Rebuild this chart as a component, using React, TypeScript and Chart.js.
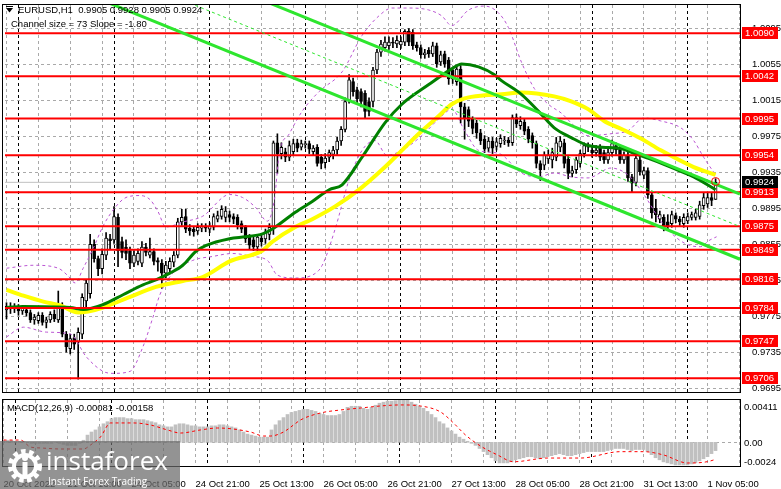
import React, { useEffect, useRef } from 'react';
import { Chart, registerables } from 'chart.js';
Chart.register(...registerables);

// ---------- data ----------
const opens = [
  0.9782,0.9786,0.9783,0.9785,0.9781,0.9782,0.9779,0.9771,0.9770,0.9776,
  0.9768,0.9771,0.9777,0.9771,0.9787,0.9755,0.9739,0.9751,0.9746,0.9755,
  0.9792,0.9800,0.9855,0.9839,0.9828,0.9843,0.9861,0.9860,0.9885,0.9858,
  0.9852,0.9848,0.9834,0.9836,0.9834,0.9852,0.9843,0.9847,0.9837,0.9834,
  0.9823,0.9828,0.9835,0.9843,0.9880,0.9886,0.9873,0.9872,0.9870,0.9873,
  0.9874,0.9872,0.9874,0.9883,0.9886,0.9885,0.9888,0.9886,0.9885,0.9878,
  0.9874,0.9863,0.9860,0.9852,0.9862,0.9861,0.9866,0.9874,0.9968,0.9956,
  0.9958,0.9952,0.9958,0.9968,0.9963,0.9966,0.9967,0.9958,0.9963,0.9952,
  0.9946,0.9952,0.9955,0.9960,0.9970,0.9983,1.0015,1.0036,1.0027,1.0025,
  1.0023,1.0014,1.0014,1.0049,1.0069,1.0074,1.0076,1.0080,1.0078,1.0077,
  1.0080,1.0092,1.0091,1.0077,1.0074,1.0066,1.0071,1.0067,1.0076,1.0058,
  1.0067,1.0060,1.0049,1.0036,1.0050,1.0008,1.0005,0.9994,0.9990,0.9979,
  0.9972,0.9962,0.9970,0.9964,0.9967,0.9970,0.9971,0.9968,0.9996,0.9987,
  0.9991,0.9983,0.9976,0.9967,0.9945,0.9943,0.9950,0.9949,0.9952,0.9963,
  0.9968,0.9950,0.9934,0.9938,0.9945,0.9956,0.9965,0.9960,0.9957,0.9962,
  0.9957,0.9949,0.9957,0.9965,0.9962,0.9949,0.9954,0.9930,0.9924,0.9949,
  0.9932,0.9937,0.9910,0.9895,0.9883,0.9885,0.9880,0.9878,0.9887,0.9883,
  0.9878,0.9881,0.9885,0.9885,0.9886,0.9898,0.9900,0.9907,0.9905,
];
const highs = [
  0.9790,0.9790,0.9789,0.9788,0.9787,0.9786,0.9782,0.9777,0.9779,0.9779,
  0.9774,0.9780,0.9782,0.9803,0.9790,0.9758,0.9755,0.9755,0.9762,0.9800,
  0.9815,0.9866,0.9860,0.9842,0.9850,0.9868,0.9866,0.9897,0.9889,0.9863,
  0.9860,0.9852,0.9848,0.9850,0.9858,0.9856,0.9862,0.9850,0.9840,0.9838,
  0.9836,0.9840,0.9847,0.9884,0.9894,0.9894,0.9877,0.9875,0.9878,0.9878,
  0.9878,0.9879,0.9889,0.9892,0.9898,0.9897,0.9892,0.9889,0.9888,0.9881,
  0.9876,0.9866,0.9863,0.9866,0.9867,0.9872,0.9878,0.9970,0.9978,0.9968,
  0.9962,0.9970,0.9972,0.9972,0.9971,0.9970,0.9970,0.9965,0.9966,0.9955,
  0.9956,0.9960,0.9964,0.9974,0.9986,1.0018,1.0044,1.0040,1.0030,1.0028,
  1.0026,1.0018,1.0052,1.0072,1.0082,1.0086,1.0086,1.0085,1.0087,1.0086,
  1.0094,1.0095,1.0094,1.0080,1.0077,1.0072,1.0074,1.0080,1.0079,1.0070,
  1.0070,1.0063,1.0052,1.0054,1.0054,1.0012,1.0008,0.9997,0.9993,0.9983,
  0.9976,0.9974,0.9974,0.9973,0.9977,0.9975,0.9974,0.9999,1.0000,0.9997,
  0.9994,0.9986,0.9979,0.9970,0.9948,0.9958,0.9960,0.9962,0.9974,0.9975,
  0.9972,0.9953,0.9942,0.9952,0.9960,0.9968,0.9968,0.9963,0.9965,0.9966,
  0.9960,0.9961,0.9971,0.9968,0.9965,0.9958,0.9958,0.9933,0.9955,0.9953,
  0.9941,0.9940,0.9912,0.9905,0.9892,0.9888,0.9888,0.9892,0.9890,0.9886,
  0.9889,0.9890,0.9891,0.9894,0.9903,0.9912,0.9913,0.9912,0.9928,
];
const lows = [
  0.9772,0.9778,0.9779,0.9776,0.9777,0.9775,0.9768,0.9766,0.9767,0.9765,
  0.9762,0.9768,0.9769,0.9768,0.9752,0.9735,0.9733,0.9738,0.9705,0.9750,
  0.9785,0.9795,0.9835,0.9820,0.9822,0.9838,0.9850,0.9856,0.9830,0.9840,
  0.9838,0.9828,0.9830,0.9832,0.9830,0.9842,0.9840,0.9832,0.9825,0.9806,
  0.9818,0.9824,0.9830,0.9840,0.9876,0.9868,0.9865,0.9864,0.9866,0.9869,
  0.9869,0.9868,0.9871,0.9880,0.9883,0.9880,0.9880,0.9878,0.9872,0.9868,
  0.9857,0.9850,0.9848,0.9848,0.9853,0.9856,0.9860,0.9866,0.9934,0.9950,
  0.9947,0.9948,0.9954,0.9958,0.9960,0.9962,0.9956,0.9954,0.9942,0.9939,
  0.9940,0.9947,0.9950,0.9955,0.9965,0.9980,1.0012,1.0020,1.0012,1.0008,
  0.9996,0.9998,1.0008,1.0045,1.0064,1.0070,1.0072,1.0074,1.0074,1.0073,
  1.0076,1.0076,1.0072,1.0070,1.0062,1.0062,1.0063,1.0064,1.0052,1.0054,
  1.0052,1.0033,1.0034,1.0032,0.9990,0.9972,0.9986,0.9978,0.9973,0.9966,
  0.9957,0.9958,0.9956,0.9960,0.9963,0.9966,0.9964,0.9965,0.9985,0.9983,
  0.9977,0.9968,0.9962,0.9940,0.9926,0.9938,0.9945,0.9940,0.9948,0.9958,
  0.9940,0.9928,0.9930,0.9934,0.9941,0.9952,0.9958,0.9952,0.9953,0.9948,
  0.9945,0.9945,0.9953,0.9955,0.9945,0.9945,0.9925,0.9913,0.9920,0.9932,
  0.9928,0.9906,0.9884,0.9880,0.9879,0.9870,0.9872,0.9874,0.9879,0.9876,
  0.9874,0.9878,0.9882,0.9882,0.9883,0.9894,0.9896,0.9898,0.9905,
];
const closes = [
  0.9786,0.9783,0.9785,0.9781,0.9784,0.9779,0.9771,0.9774,0.9776,0.9768,
  0.9771,0.9777,0.9772,0.9788,0.9755,0.9741,0.9750,0.9744,0.9757,0.9796,
  0.9812,0.9855,0.9839,0.9828,0.9844,0.9862,0.9859,0.9886,0.9848,0.9846,
  0.9845,0.9834,0.9843,0.9845,0.9852,0.9846,0.9847,0.9836,0.9835,0.9823,
  0.9832,0.9836,0.9843,0.9880,0.9885,0.9872,0.9870,0.9869,0.9874,0.9874,
  0.9873,0.9875,0.9886,0.9887,0.9894,0.9892,0.9885,0.9883,0.9877,0.9872,
  0.9861,0.9854,0.9852,0.9863,0.9858,0.9869,0.9874,0.9968,0.9956,0.9963,
  0.9952,0.9965,0.9967,0.9962,0.9967,0.9967,0.9961,0.9962,0.9945,0.9945,
  0.9951,0.9957,0.9960,0.9970,0.9983,1.0014,1.0038,1.0025,1.0017,1.0014,
  1.0003,1.0003,1.0049,1.0069,1.0078,1.0080,1.0080,1.0079,1.0082,1.0081,
  1.0092,1.0080,1.0076,1.0074,1.0066,1.0068,1.0067,1.0076,1.0056,1.0066,
  1.0056,1.0039,1.0039,1.0050,1.0008,0.9995,0.9992,0.9984,0.9979,0.9970,
  0.9961,0.9970,0.9962,0.9969,0.9973,0.9971,0.9968,0.9996,0.9989,0.9992,
  0.9981,0.9972,0.9968,0.9945,0.9938,0.9954,0.9954,0.9957,0.9968,0.9970,
  0.9945,0.9934,0.9937,0.9949,0.9956,0.9965,0.9963,0.9957,0.9960,0.9952,
  0.9949,0.9957,0.9967,0.9960,0.9949,0.9954,0.9929,0.9923,0.9951,0.9936,
  0.9937,0.9910,0.9890,0.9888,0.9888,0.9874,0.9875,0.9888,0.9883,0.9880,
  0.9885,0.9886,0.9888,0.9890,0.9899,0.9907,0.9907,0.9904,0.9924,
];

// moving averages [barIndex, price]
const greenMA = [
  [0,0.97847],[4.25,0.97858],[16,0.97847],[19.25,0.97825],[24.25,0.97880],[29.25,0.97989],
  [34.25,0.98098],[37.5,0.98153],[41,0.98229],[44.25,0.98317],[47.5,0.98470],[50,0.98535],
  [56,0.98612],[60,0.98634],[64.25,0.98666],[66.75,0.98721],[72.5,0.98907],[76.75,0.99027],
  [81,0.99158],[84.25,0.99213],[89.25,0.99519],[95,0.99902],[99.25,1.00109],[106,1.00328],
  [111.75,1.00503],[114.25,1.00557],[118.5,1.00525],[122.5,1.00437],[124.25,1.00372],
  [129.25,1.00219],[133.5,1.00033],[137.5,0.99847],[141.75,0.99738],[146,0.99650],
  [151,0.99628],[154.25,0.99617],[157.5,0.99563],[162.5,0.99486],[168.5,0.99377],
  [172.5,0.99300],[178,0.99158],
];
const yellowMA = [
  [0,0.98043],[4.25,0.97978],[9.25,0.97912],[13.5,0.97869],[18,0.97792],[20.5,0.97803],
  [24.25,0.97847],[30.5,0.97956],[37.5,0.98076],[44.25,0.98142],[49.25,0.98186],[56,0.98360],
  [64.25,0.98481],[66.75,0.98579],[72.5,0.98743],[76.75,0.98830],[82.5,0.98972],[88.5,0.99158],
  [95,0.99410],[99.25,0.99596],[103.5,0.99781],[108.5,0.99978],[111.75,1.00109],[115,1.00175],
  [120,1.00208],[124.25,1.00219],[129.25,1.00240],[137.5,1.00197],[141.75,1.00142],[146,1.00055],
  [150,0.99923],[154.25,0.99836],[159.25,0.99727],[164.25,0.99596],[172.5,0.99410],[178,0.99322],
];
const upperBand = [
  [0,0.98284],[6.75,0.98317],[13,0.98284],[15.5,0.98197],[17.25,0.98120],[19.25,0.98284],
  [21.75,0.98503],[24.25,0.98754],[27.5,0.98973],[30,0.99071],[33.5,0.99093],[36,0.99049],
  [38,0.98918],[40,0.98743],[44.25,0.98798],[49.25,0.98863],[56,0.99104],[59.25,0.99071],
  [62.5,0.98962],[65.5,0.98808],[67.25,0.99049],[68.5,0.99563],[71,0.99781],[74.25,1.00033],
  [78.5,1.00251],[84.25,1.00470],[89.25,1.00874],[93.5,1.01093],[96.75,1.01180],[101,1.01180],
  [106,1.01158],[109.25,1.01093],[111.75,1.00984],[116,1.01158],[120,1.01202],[123.5,1.01126],
  [126,1.00962],[129.25,1.00579],[132.5,1.00284],[136,1.00109],[139.25,1.00011],[142.5,0.99869],
  [146,0.99759],[151.75,0.99781],[156,0.99814],[160,0.99956],[164.25,0.99923],[169.25,0.99847],
  [172.5,0.99705],[175,0.99519],[177.5,0.99355],[178.25,0.99311],
];
const lowerBand = [
  [0,0.97519],[4.25,0.97628],[10,0.97573],[16,0.97552],[20,0.97300],[24.25,0.97136],
  [26.75,0.97114],[31,0.97136],[34.25,0.97410],[36.75,0.97737],[38.5,0.97989],[41.75,0.98229],
  [46.75,0.98371],[51.75,0.98415],[56.75,0.98448],[61.75,0.98415],[65.5,0.98371],[68,0.98207],
  [72.5,0.98175],[76.75,0.98207],[79.25,0.98317],[82.5,0.98721],[86,0.99268],[89.25,0.99596],
  [92.5,0.99705],[95.5,0.99541],[99.25,0.99596],[104.25,0.99759],[109.25,0.99978],[111.75,1.00055],
  [115,0.99814],[118.5,0.99596],[123.5,0.99563],[129.25,0.99344],[133.5,0.99300],[137.5,0.99344],
  [141.75,0.99300],[146,0.99289],[151.75,0.99399],[156,0.99322],[160,0.99104],[164.25,0.98808],
  [168.5,0.98612],[171.75,0.98535],[174.25,0.98524],[176.25,0.98590],[178.25,0.98634],
];

// regression channel lines [barIndex, price]
const channelUpper = [[66, 1.01236], [184.125, 0.99110]];
const channelMiddle = [[46, 1.01235], [184.125, 0.98747]];
const channelLower = [[25.5, 1.01240], [184.125, 0.98384]];

const levels = [1.0090, 1.0042, 0.9995, 0.9954, 0.9913, 0.9875, 0.9849, 0.9816, 0.9784, 0.9747, 0.9706];
const bidPrice = 0.9924;
const alertMarks = [[178, 0.99249]];
const priceTicks = [0.9695, 0.9735, 0.9775, 0.9815, 0.9855, 0.9895, 0.9935, 0.9975, 1.0015, 1.0055, 1.0095];

const gridBars = [0,8,16,24,32,40,48,56,64,72,80,88,96,104,112,120,128,136,144,152,160,168,176,184];
const timeLabels = ['20 Oct 2022','21 Oct 13:00','24 Oct 05:00','24 Oct 21:00','25 Oct 13:00','26 Oct 05:00',
  '26 Oct 21:00','27 Oct 13:00','28 Oct 05:00','28 Oct 21:00','31 Oct 13:00','1 Nov 05:00'];
const daySeparators = [3, 27, 51, 75, 99, 123, 147, 171];

const macdHist = [
  0.0002,0.0002,0.0002,0.0001,0.0001,0.0001,0.0000,-0.0001,-0.0001,-0.0001,
  -0.0001,-0.0001,-0.0001,0.0000,-0.0001,-0.0002,-0.0003,-0.0003,-0.0003,-0.0001,
  0.0002,0.0007,0.0010,0.0012,0.0015,0.0018,0.0020,0.0023,0.0024,0.0024,
  0.0024,0.0023,0.0023,0.0022,0.0022,0.0022,0.0021,0.0020,0.0019,0.0017,
  0.0016,0.0015,0.0015,0.0017,0.0018,0.0018,0.0017,0.0016,0.0016,0.0015,
  0.0015,0.0015,0.0016,0.0016,0.0017,0.0017,0.0016,0.0015,0.0014,0.0012,
  0.0010,0.0008,0.0007,0.0006,0.0005,0.0005,0.0005,0.0012,0.0017,0.0021,
  0.0024,0.0027,0.0029,0.0030,0.0031,0.0032,0.0032,0.0031,0.0030,0.0028,
  0.0027,0.0026,0.0026,0.0026,0.0027,0.0030,0.0034,0.0035,0.0035,0.0035,
  0.0033,0.0032,0.0034,0.0036,0.0038,0.0039,0.0040,0.0040,0.00405,0.0041,
  0.0041,0.0041,0.0039,0.0037,0.0035,0.0033,0.0030,0.0027,0.0024,0.0020,
  0.0018,0.0014,0.0011,0.0008,0.0005,0.0003,0.0001,-0.0001,-0.0003,-0.0006,
  -0.0009,-0.0012,-0.0015,-0.0018,-0.0020,-0.0020,-0.0020,-0.0019,-0.0017,-0.0016,
  -0.0015,-0.0014,-0.0014,-0.0015,-0.0016,-0.0015,-0.0014,-0.0013,-0.0012,-0.0011,
  -0.0012,-0.0013,-0.0013,-0.0012,-0.0011,-0.0010,-0.0009,-0.0009,-0.0009,-0.0009,
  -0.0009,-0.0008,-0.0007,-0.0006,-0.0006,-0.0006,-0.0007,-0.0008,-0.0007,-0.0007,
  -0.0007,-0.0009,-0.0012,-0.0015,-0.0017,-0.0019,-0.0020,-0.0021,-0.0022,-0.0022,
  -0.0022,-0.0022,-0.0021,-0.0020,-0.0018,-0.0016,-0.0014,-0.0011,-0.00081,
];
const macdSignal = [
  [0,0.00022],[4.25,0.00022],[6.75,-0.00046],[9.25,-0.00055],[14.25,-0.00065],[20,-0.00065],
  [21.75,-0.00026],[24.25,0.00052],[26.75,0.00188],[32.5,0.00188],[36.75,0.00168],[41,0.00120],
  [44.25,0.00090],[49.25,0.00120],[53.5,0.00139],[61.75,0.00100],[65,0.00061],[66.75,0.00061],
  [70,0.00100],[72.5,0.00168],[74.25,0.00217],[79.25,0.00285],[84.25,0.00314],[89.25,0.00333],
  [94.25,0.00353],[99.25,0.00363],[104.25,0.00353],[109.25,0.00295],[112.25,0.00197],[115.5,0.00071],
  [119.25,-0.00036],[123.5,-0.00123],[127.5,-0.00189],[136,-0.00153],[144.25,-0.00153],
  [154.25,-0.00091],[160,-0.00091],[165,-0.00123],[171,-0.00201],[177.5,-0.00172],[178,-0.00158],
];
const macdAxisLabels = ['0.00411', '0.00', '-0.0024'];
const macdTitle = 'MACD(12,26,9) -0.00081 -0.00158';
const symbolTitle = 'EURUSD,H1';
const channelTitle = 'Channel size = 73 Slope = -1.80';

// ---------- geometry ----------
const X_MIN = -0.375;
const X_MAX = 184.125;
const Y_MIN = 0.968953;
const Y_MAX = 1.012136;
const MACD_MIN = -0.0024;
const MACD_MAX = 0.00411;
const FONT = '"Liberation Sans", Arial, sans-serif';
const GRID = '#a9a9a9';

const pts = (arr: number[][]) => arr.map(([x, y]) => ({ x, y }));
const hline = (v: number) => [{ x: X_MIN, y: v }, { x: X_MAX, y: v }];

function drawGrid(chart: any, yValues: number[]) {
  const { ctx, chartArea: a, scales } = chart;
  ctx.save();
  ctx.strokeStyle = GRID;
  ctx.lineWidth = 1;
  ctx.setLineDash([3, 3]);
  gridBars.forEach((b) => {
    const px = Math.floor(scales.x.getPixelForValue(b)) + 0.5;
    if (px < a.left || px > a.right) return;
    ctx.beginPath(); ctx.moveTo(px, a.top); ctx.lineTo(px, a.bottom); ctx.stroke();
  });
  yValues.forEach((v) => {
    const py = Math.floor(scales.y.getPixelForValue(v)) + 0.5;
    if (py < a.top || py > a.bottom) return;
    ctx.beginPath(); ctx.moveTo(a.left, py); ctx.lineTo(a.right, py); ctx.stroke();
  });
  ctx.strokeStyle = '#000';
  daySeparators.forEach((b) => {
    const px = Math.floor(scales.x.getPixelForValue(b)) + 0.5;
    ctx.beginPath(); ctx.moveTo(px, a.top); ctx.lineTo(px, a.bottom); ctx.stroke();
  });
  ctx.restore();
}

function drawFrame(chart: any) {
  const { ctx, chartArea: a } = chart;
  ctx.save();
  ctx.strokeStyle = '#000';
  ctx.lineWidth = 1;
  ctx.setLineDash([]);
  ctx.strokeRect(2.5, a.top - 0.5, 738, a.bottom - a.top);
  ctx.restore();
}

const mainPlugin = {
  id: 'mainDecor',
  beforeDatasetsDraw(chart: any) { drawGrid(chart, priceTicks); },
  afterDraw(chart: any) {
    const { ctx, scales } = chart;
    drawFrame(chart);
    ctx.save();
    ctx.font = `9.5px ${FONT}`;
    ctx.textBaseline = 'middle';
    ctx.textAlign = 'left';
    levels.forEach((lv) => {
      const py = Math.round(scales.y.getPixelForValue(lv));
      ctx.fillStyle = '#ff0000';
      ctx.fillRect(742, py - 6, 36, 12);
      ctx.fillStyle = '#ffffff';
      ctx.fillText(lv.toFixed(4), 745, py + 0.5);
    });
    const by = Math.round(scales.y.getPixelForValue(bidPrice));
    ctx.fillStyle = '#000';
    ctx.fillRect(742, by - 6, 36, 12);
    ctx.fillStyle = '#fff';
    ctx.fillText(bidPrice.toFixed(4), 745, by + 0.5);

    // titles
    const n = closes.length - 1;
    ctx.fillStyle = '#000';
    ctx.beginPath();
    ctx.moveTo(6, 8); ctx.lineTo(13, 8); ctx.lineTo(9.5, 12.5); ctx.closePath(); ctx.fill();
    ctx.fillRect(6, 6, 7, 1);
    const t = `${symbolTitle}  ${opens[n].toFixed(4)} ${highs[n].toFixed(4)} ${lows[n].toFixed(4)} ${closes[n].toFixed(4)}`;
    ctx.fillText(t, 18, 10);
    ctx.fillText(channelTitle, 11, 24);
    ctx.restore();
  },
};

function drawGear(ctx: CanvasRenderingContext2D, cx: number, cy: number) {
  ctx.save();
  ctx.strokeStyle = '#ffffff';
  ctx.fillStyle = '#ffffff';
  ctx.lineWidth = 5;
  ctx.setLineDash([4.5, 3.5]);
  ctx.beginPath(); ctx.arc(cx, cy, 14.5, 0, Math.PI * 2); ctx.stroke();
  ctx.setLineDash([]);
  ctx.lineWidth = 4;
  ctx.beginPath(); ctx.arc(cx, cy, 11, 0, Math.PI * 2); ctx.stroke();
  ctx.fillRect(cx - 2.5, cy - 4, 5, 14);
  ctx.beginPath(); ctx.arc(cx, cy - 8, 3, 0, Math.PI * 2); ctx.fill();
  ctx.restore();
}

const macdPlugin = {
  id: 'macdDecor',
  beforeDatasetsDraw(chart: any) { drawGrid(chart, [0]); },
  afterDraw(chart: any) {
    const { ctx, chartArea: a, scales } = chart;
    drawFrame(chart);
    ctx.save();
    ctx.font = `9.5px ${FONT}`;
    ctx.textBaseline = 'middle';
    ctx.textAlign = 'left';
    ctx.fillStyle = '#000';
    ctx.fillText(macdAxisLabels[0], 744, a.top + 7);
    ctx.fillText(macdAxisLabels[1], 744, scales.y.getPixelForValue(0) + 1);
    ctx.fillText(macdAxisLabels[2], 744, a.bottom - 5);
    ctx.fillText(macdTitle, 7, 10);

    // watermark
    ctx.fillStyle = 'rgba(105,105,105,0.72)';
    ctx.fillRect(0, 43, 180, 48);
    drawGear(ctx, 25, 68);
    ctx.fillStyle = '#ffffff';
    ctx.textBaseline = 'alphabetic';
    ctx.font = '26px "Open Sans", "Liberation Sans", sans-serif';
    ctx.fillText('instaforex', 46, 72);
    ctx.font = '10px "Open Sans", "Liberation Sans", sans-serif';
    ctx.fillText('Instant Forex Trading', 48, 87);
    ctx.restore();
  },
};

function mainConfig(): any {
  const idx = closes.map((_, i) => i);
  const wickData = idx.map((i) => ({ x: i, y: [lows[i], highs[i]] }));
  const bodyData = idx.map((i) => ({ x: i, y: [opens[i], closes[i]] }));
  const lineBase = { type: 'line', pointRadius: 0, fill: false };
  return {
    type: 'bar',
    data: {
      datasets: [
        { ...lineBase, data: pts(alertMarks), showLine: false, pointRadius: 4, pointBorderColor: '#ff0000',
          pointBackgroundColor: 'rgba(0,0,0,0)', pointBorderWidth: 1, order: 0 },
        { ...lineBase, data: pts(channelUpper), borderColor: '#2ee62e', borderWidth: 3, order: 1 },
        { ...lineBase, data: pts(channelMiddle), borderColor: '#2ee62e', borderWidth: 1, borderDash: [3, 3], order: 1 },
        { ...lineBase, data: pts(channelLower), borderColor: '#2ee62e', borderWidth: 3, order: 1 },
        ...levels.map((lv) => ({ ...lineBase, data: hline(lv), borderColor: '#ff0000', borderWidth: 2, order: 2 })),
        { ...lineBase, data: pts(greenMA), borderColor: '#008000', borderWidth: 3, cubicInterpolationMode: 'monotone', order: 3 },
        { ...lineBase, data: pts(yellowMA), borderColor: '#ffff00', borderWidth: 4, cubicInterpolationMode: 'monotone', order: 4 },
        { ...lineBase, data: pts(upperBand), borderColor: '#ba55d3', borderWidth: 1, borderDash: [3, 3], cubicInterpolationMode: 'monotone', order: 5 },
        { ...lineBase, data: pts(lowerBand), borderColor: '#ba55d3', borderWidth: 1, borderDash: [3, 3], cubicInterpolationMode: 'monotone', order: 5 },
        { type: 'bar', data: bodyData, grouped: false, barThickness: 3, minBarLength: 1,
          backgroundColor: (c: any) => (closes[c.dataIndex] >= opens[c.dataIndex] ? '#ffffff' : '#000000'),
          borderColor: '#000000', borderWidth: 1, borderSkipped: false, order: 6 },
        { type: 'bar', data: wickData, grouped: false, barThickness: 1, backgroundColor: '#000000', borderWidth: 0, order: 7 },
        { ...lineBase, data: hline(bidPrice), borderColor: '#c0c0c0', borderWidth: 1, order: 8 },
      ],
    },
    options: {
      responsive: false,
      animation: false,
      devicePixelRatio: 1,
      events: [],
      layout: { padding: { left: 2, top: 2, right: 0, bottom: 1 } },
      plugins: { legend: { display: false }, tooltip: { enabled: false } },
      scales: {
        x: {
          type: 'linear', min: X_MIN, max: X_MAX, offset: false,
          afterBuildTicks: (s: any) => { s.ticks = gridBars.map((v) => ({ value: v })); },
          afterFit: (s: any) => { s.height = 0; s.paddingLeft = 0; s.paddingRight = 0; },
          ticks: { display: false },
          grid: { display: false },
          border: { display: false },
        },
        y: {
          type: 'linear', position: 'right', min: Y_MIN, max: Y_MAX,
          afterBuildTicks: (s: any) => { s.ticks = priceTicks.map((v) => ({ value: v })); },
          afterFit: (s: any) => { s.width = 41; s.paddingTop = 0; s.paddingBottom = 0; },
          ticks: { color: '#000', font: { family: FONT, size: 9.5 }, padding: 4, autoSkip: false,
            callback: (v: any) => Number(v).toFixed(4) },
          grid: { display: false },
          border: { display: false },
        },
      },
    },
    plugins: [mainPlugin],
  };
}

function macdConfig(): any {
  return {
    type: 'bar',
    data: {
      datasets: [
        { type: 'line', data: pts(macdSignal), borderColor: '#ff0000', borderWidth: 1, borderDash: [3, 3],
          pointRadius: 0, fill: false, cubicInterpolationMode: 'monotone', order: 1 },
        { type: 'bar', data: macdHist.map((v, i) => ({ x: i, y: v })), backgroundColor: '#c0c0c0',
          barThickness: 3, grouped: false, borderWidth: 0, order: 2 },
      ],
    },
    options: {
      responsive: false,
      animation: false,
      devicePixelRatio: 1,
      events: [],
      layout: { padding: { left: 2, top: 2, right: 0, bottom: 0 } },
      plugins: { legend: { display: false }, tooltip: { enabled: false } },
      scales: {
        x: {
          type: 'linear', min: X_MIN, max: X_MAX, offset: false,
          afterBuildTicks: (s: any) => { s.ticks = gridBars.map((v) => ({ value: v })); },
          afterFit: (s: any) => { s.height = 22; s.paddingLeft = 0; s.paddingRight = 0; },
          ticks: {
            autoSkip: false, maxRotation: 0, minRotation: 0, align: 'start', padding: 4,
            color: '#000', font: { family: FONT, size: 9.5 },
            callback: (v: any) => {
              const k = Number(v);
              return k % 16 === 0 && timeLabels[k / 16] ? timeLabels[k / 16] : '';
            },
          },
          grid: { display: false },
          border: { display: false },
        },
        y: {
          type: 'linear', position: 'right', min: MACD_MIN, max: MACD_MAX,
          afterBuildTicks: (s: any) => { s.ticks = [{ value: 0 }]; },
          afterFit: (s: any) => { s.width = 41; s.paddingTop = 0; s.paddingBottom = 0; },
          ticks: { display: false },
          grid: { display: false },
          border: { display: false },
        },
      },
    },
    plugins: [macdPlugin],
  };
}

export default function App() {
  const mainRef = useRef<HTMLCanvasElement>(null);
  const macdRef = useRef<HTMLCanvasElement>(null);
  useEffect(() => {
    const c1 = new Chart(mainRef.current as HTMLCanvasElement, mainConfig());
    const c2 = new Chart(macdRef.current as HTMLCanvasElement, macdConfig());
    return () => { c1.destroy(); c2.destroy(); };
  }, []);
  return (
    <div style={{ position: 'absolute', left: 0, top: 0, width: 781, height: 489, background: '#fff', overflow: 'hidden' }}>
      <canvas ref={mainRef} width={781} height={398} style={{ position: 'absolute', left: 0, top: 0 }} />
      <canvas ref={macdRef} width={781} height={91} style={{ position: 'absolute', left: 0, top: 398 }} />
    </div>
  );
}
